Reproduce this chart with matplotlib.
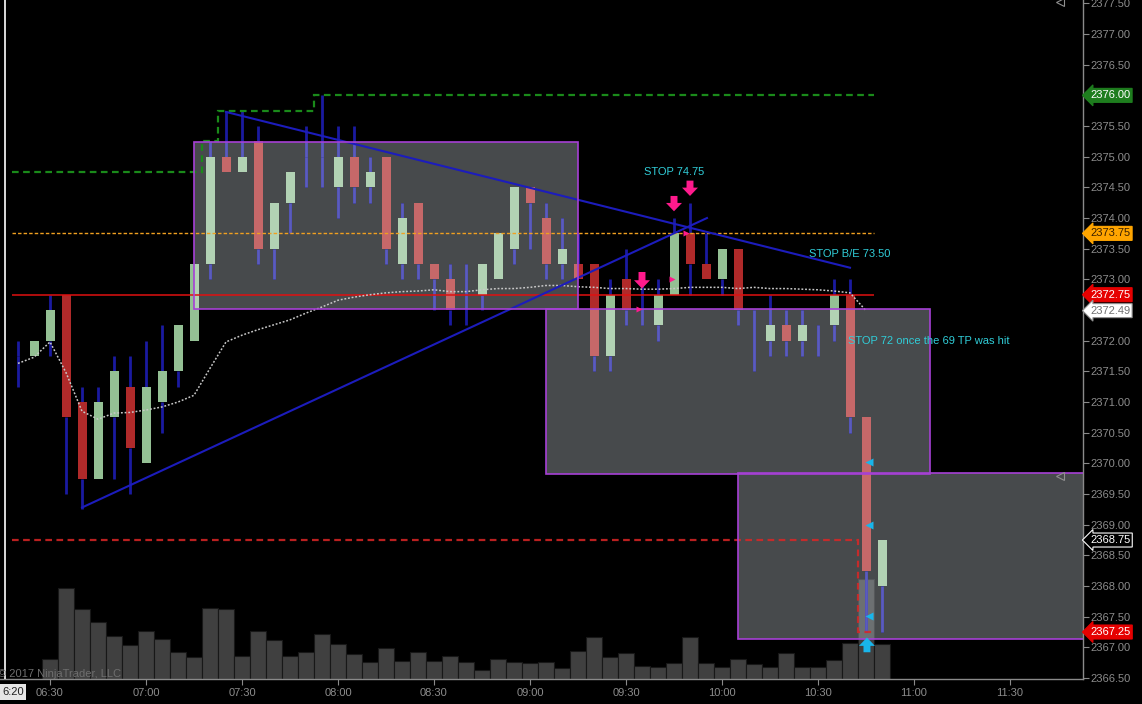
import matplotlib
matplotlib.use('Agg')
import matplotlib.pyplot as plt
import matplotlib.colors as mcolors
import numpy as np
from matplotlib.patches import Rectangle

plt.rcParams['font.family'] = ['Liberation Sans', 'DejaVu Sans']

# 5 minute bars, first bar 06:20
opens = [2371.75, 2371.75, 2372.00, 2372.75, 2371.00, 2369.75, 2370.75, 2371.25, 2370.00, 2371.00,
         2371.50, 2372.00, 2373.25, 2375.00, 2374.75, 2375.25, 2373.50, 2374.25, 2375.00, 2375.00,
         2374.50, 2375.00, 2374.50, 2375.00, 2373.25, 2374.25, 2373.25, 2373.00, 2372.75, 2372.75,
         2373.00, 2373.50, 2374.50, 2374.00, 2373.25, 2373.25, 2373.25, 2371.75, 2373.00, 2372.75,
         2372.25, 2372.75, 2373.75, 2373.25, 2373.00, 2373.50, 2372.50, 2372.00, 2372.25, 2372.00,
         2372.25, 2372.25, 2372.75, 2370.75, 2368.00]
highs = [2372.00, 2372.00, 2372.75, 2372.75, 2371.25, 2371.25, 2371.75, 2371.75, 2372.00, 2372.25,
         2372.25, 2373.25, 2375.25, 2375.75, 2375.75, 2375.50, 2374.25, 2374.75, 2375.50, 2376.00,
         2375.50, 2375.50, 2375.00, 2375.00, 2374.25, 2374.25, 2373.25, 2373.25, 2373.25, 2373.25,
         2373.75, 2374.50, 2374.50, 2374.25, 2374.00, 2373.75, 2373.25, 2373.00, 2373.50, 2373.00,
         2373.00, 2374.00, 2374.25, 2373.75, 2373.50, 2373.50, 2372.50, 2372.75, 2372.50, 2372.50,
         2372.25, 2373.00, 2373.00, 2370.75, 2368.75]
lows = [2371.25, 2371.75, 2371.75, 2369.50, 2369.25, 2369.75, 2369.75, 2369.50, 2370.00, 2370.50,
        2371.25, 2372.00, 2373.00, 2374.75, 2374.75, 2373.25, 2373.00, 2373.75, 2374.50, 2374.50,
        2374.00, 2374.25, 2374.25, 2373.25, 2373.00, 2373.00, 2372.50, 2372.25, 2372.25, 2372.50,
        2373.00, 2373.25, 2373.50, 2373.00, 2373.00, 2373.00, 2371.50, 2371.50, 2372.25, 2372.25,
        2372.00, 2372.75, 2372.75, 2373.00, 2372.75, 2372.25, 2371.50, 2371.75, 2371.75, 2371.75,
        2371.75, 2372.00, 2370.50, 2367.25, 2367.25]
closes = [2371.75, 2372.00, 2372.50, 2370.75, 2369.75, 2371.00, 2371.50, 2370.25, 2371.25, 2371.50,
          2372.25, 2373.25, 2375.00, 2374.75, 2375.00, 2373.50, 2374.25, 2374.75, 2375.00, 2375.00,
          2375.00, 2374.50, 2374.75, 2373.50, 2374.00, 2373.25, 2373.00, 2372.50, 2372.75, 2373.25,
          2373.75, 2374.50, 2374.25, 2373.25, 2373.50, 2373.00, 2371.75, 2372.75, 2372.50, 2372.75,
          2372.75, 2373.75, 2373.25, 2373.00, 2373.50, 2372.50, 2372.50, 2372.25, 2372.00, 2372.25,
          2372.25, 2372.75, 2370.75, 2368.25, 2368.75]
volumes = [0, 0, 2200, 10000, 7700, 6300, 4700, 3700, 5300, 4400,
           3000, 2400, 7800, 7700, 2500, 5300, 4300, 2500, 3000, 5000,
           3900, 2800, 1900, 3400, 2000, 3000, 2000, 2500, 1900, 1000,
           2200, 1900, 1800, 1900, 1200, 3100, 4600, 2400, 2900, 1400,
           1300, 1800, 4600, 1800, 1300, 2200, 1700, 1300, 2900, 1300,
           1300, 2100, 4000, 11000, 3850]
sma = [2371.63, 2371.73, 2371.98, 2371.48, 2370.85, 2370.72, 2370.82, 2370.83, 2370.87, 2370.92,
       2371.00, 2371.11, 2371.55, 2371.98, 2372.09, 2372.18, 2372.26, 2372.34, 2372.45, 2372.55,
       2372.66, 2372.71, 2372.75, 2372.78, 2372.80, 2372.81, 2372.83, 2372.80, 2372.80, 2372.83,
       2372.85, 2372.85, 2372.87, 2372.90, 2372.90, 2372.88, 2372.87, 2372.85, 2372.85, 2372.84,
       2372.84, 2372.85, 2372.87, 2372.87, 2372.87, 2372.85, 2372.87, 2372.85, 2372.85, 2372.84,
       2372.83, 2372.81, 2372.78, 2372.49]

time_ticks = [2, 8, 14, 20, 26, 32, 38, 44, 50, 56, 62]
time_labels = ['06:30', '07:00', '07:30', '08:00', '08:30', '09:00', '09:30', '10:00', '10:30', '11:00', '11:30']

# zones: (bar start, bar end, low, high)
zones = [(11, 35, 2372.52, 2375.24),
         (33, 57, 2369.83, 2372.52),
         (45, 70, 2367.14, 2369.84)]

high_edges = [-0.4, 11.5, 12.5, 18.5, 53.5]
high_levels = [2374.75, 2375.25, 2375.75, 2376.00]
stop_edges = [-0.4, 52.5, 53.5]
stop_levels = [2368.75, 2367.25]
entry_level = 2373.75
red_level = 2372.75

trend_up = ([4, 43.06], [2369.28, 2374.0])
trend_down = ([13, 52], [2375.73, 2373.19])

pink_arrows = [(39, 2373.12, 2372.85), (41, 2374.36, 2374.11), (42, 2374.61, 2374.36)]
pink_marks = [(38.8, 2372.52), (40.9, 2373.0), (41.75, 2373.75)]
cyan_marks = [(53.2, 2370.02), (53.2, 2369.0), (53.2, 2367.51)]

notes = [(41, 2374.75, 'STOP 74.75', 'center'),
         (52, 2373.42, 'STOP B/E 73.50', 'center'),
         (51.9, 2372.0, 'STOP 72 once the 69 TP was hit', 'left')]

ZONE_RGB = np.array([72, 74, 76]) / 255


def screen(col):  # how the chart lightens things lying under a zone
    rgb = np.array(mcolors.to_rgb(col))
    return tuple(1 - (1 - rgb) * (1 - ZONE_RGB))


fig = plt.figure(figsize=(11.42, 7.04), dpi=100, facecolor='black')
pos = [0, 25 / 704, 1083 / 1142, 679 / 704]
axv = fig.add_axes(pos)
ax = fig.add_axes(pos)
ax.set_facecolor('none')
axv.set_facecolor('black')

x = np.arange(len(opens))
xlim = (-1.125, 66.5625)
ylim = (2366.484, 2377.555)

# volume
axv.bar(np.arange(len(volumes)), volumes, width=1.0, color='#404040', edgecolor='#181818', linewidth=0.8)
axv.set_xlim(xlim)
axv.set_ylim(0, max(volumes) * 6.79)
axv.axis('off')

# zones fill
zone_patches = []
for x0, x1, lo, hi in zones:
    ax.add_patch(Rectangle((x0, lo), x1 - x0, hi - lo, facecolor=(0.68, 0.71, 0.73, 0.41),
                           edgecolor='none', zorder=1))
    zone_patches.append(Rectangle((x0, lo), x1 - x0, hi - lo, transform=ax.transData))

# candles
o = np.array(opens); c = np.array(closes); h = np.array(highs); l = np.array(lows)
top = np.maximum(o, c); bot = np.minimum(o, c)
up = c > o
dn = c < o
WICK, UP, DOWN = '#1a1aa0', '#94c094', '#b02a2a'


def draw_candles(wick_col, up_col, dn_col, z, clip=None):
    arts = [ax.vlines(x, top, h, color=wick_col, lw=2.0, zorder=z),
            ax.vlines(x, l, bot, color=wick_col, lw=2.0, zorder=z)]
    arts += list(ax.bar(x[up], (c - o)[up], bottom=o[up], width=0.5625, color=up_col, lw=0, zorder=z + 0.1))
    arts += list(ax.bar(x[dn], (o - c)[dn], bottom=c[dn], width=0.5625, color=dn_col, lw=0, zorder=z + 0.1))
    if clip is not None:
        for a in arts:
            a.set_clip_path(clip)


draw_candles(WICK, UP, DOWN, 2)
for zp in zone_patches:
    draw_candles(screen(WICK), screen(UP), screen(DOWN), 2.5, clip=zp)

# levels
ax.hlines(red_level, -0.4, 53.5, color='#e01010', lw=1.1, zorder=4)
ax.hlines(entry_level, -0.4, 53.5, color='#f0a020', lw=1.0, linestyles=(0, (2.5, 1.5)), zorder=4)
ax.stairs(high_levels, high_edges, baseline=None, color='#1a8a1a', lw=1.6, linestyle=(0, (3, 2)), zorder=4)
ax.stairs(stop_levels, stop_edges, baseline=None, color=(0.86, 0.15, 0.15, 0.85), lw=1.6,
          linestyle=(0, (3, 2)), zorder=4)

ax.plot(x[:len(sma)], sma, color='#c8c8c8', lw=1.1, linestyle=(0, (1.2, 1.2)), zorder=5)
ax.plot(*trend_up, color='#1c1cbc', lw=1.5, zorder=5)
ax.plot(*trend_down, color='#1c1cbc', lw=1.5, zorder=5)

# zones edges
for x0, x1, lo, hi in zones:
    ax.add_patch(Rectangle((x0, lo), x1 - x0, hi - lo, facecolor='none',
                           edgecolor='#a640d6', lw=1.2, zorder=6))

# trade markers
arrow_style = 'simple,head_length=0.6,head_width=1.15,tail_width=0.5'
for xi, tail, tip in pink_arrows:
    ax.annotate('', xy=(xi, tip), xytext=(xi, tail), zorder=7,
                arrowprops=dict(arrowstyle=arrow_style, fc='#ff1a8c', ec='none', shrinkA=0, shrinkB=0))
ax.annotate('', xy=(53.06, 2367.16), xytext=(53.06, 2366.92), zorder=7,
            arrowprops=dict(arrowstyle=arrow_style, fc='#19b5ea', ec='none', shrinkA=0, shrinkB=0))
for xi, p in pink_marks:
    ax.plot(xi, p, marker='>', ms=5, color='#ff1a8c', mec='none', zorder=7)
for xi, p in cyan_marks:
    ax.plot(xi, p, marker='<', ms=6, color='#19b5ea', mec='none', zorder=7)

for xi, p, txt, ha in notes:
    ax.text(xi, p, txt, color='#30cdd8', fontsize=8, ha=ha, va='center', zorder=8)

# scroll hints
ax.plot([65.15, 65.15], [2377.52, 2369.8], ls='none', marker='<', ms=6, mfc='none', mec='#909090',
        mew=0.8, zorder=8, clip_on=False)

# crosshair
ax.axvline(-0.8, color='white', lw=1.2, zorder=8)

ax.set_xlim(xlim)
ax.set_ylim(ylim)
for s in ['top', 'left']:
    ax.spines[s].set_visible(False)
for s in ['right', 'bottom']:
    ax.spines[s].set_color('#8a8a8a')
    ax.spines[s].set_linewidth(1.0)
ax.yaxis.tick_right()
yt = np.arange(2366.5, 2377.51, 0.5)
ax.set_yticks(yt)
ax.set_yticklabels([f'{v:.2f}' for v in yt])
ax.set_xticks(time_ticks)
ax.set_xticklabels(time_labels)
ax.tick_params(axis='y', colors='#8a8a8a', labelsize=8, length=4, pad=1.5, labelcolor='#8c8c8c')
ax.tick_params(axis='x', colors='#8a8a8a', labelsize=8, length=4.5, pad=2, labelcolor='#8c8c8c')

# price tags on the axis
tags = [(high_levels[-1], '#1e7d1e', 'white', '#1e7d1e'),
        (entry_level, '#ffa500', '#3a2000', '#ffa500'),
        (red_level, '#e60000', 'white', '#e60000'),
        (sma[-1], 'white', '#707070', '#909090'),
        (closes[-1], 'black', 'white', 'white'),
        (stop_levels[-1], '#e60000', 'white', '#e60000')]
ytr = ax.get_yaxis_transform()
for p, bg, fg, ec in tags:
    ax.text(1 + 7 / 1083, p, f'{p:.2f}', transform=ytr, color=fg, fontsize=8, ha='left', va='center',
            bbox=dict(boxstyle='larrow,pad=0.18', facecolor=bg, edgecolor=ec, lw=0.8), zorder=10,
            clip_on=False)

fig.text(-2 / 1142, (704 - 677) / 704, '\u00a9 2017 NinjaTrader, LLC', color='#6e6e6e', fontsize=8,
         ha='left', va='baseline')
fig.text(2 / 1142, (704 - 692) / 704, '6:20', color='#202020', fontsize=8, ha='left', va='center',
         bbox=dict(boxstyle='square,pad=0.25', facecolor='#e6e6e6', edgecolor='none'))

fig.savefig('out.png', dpi=100, facecolor='black')
